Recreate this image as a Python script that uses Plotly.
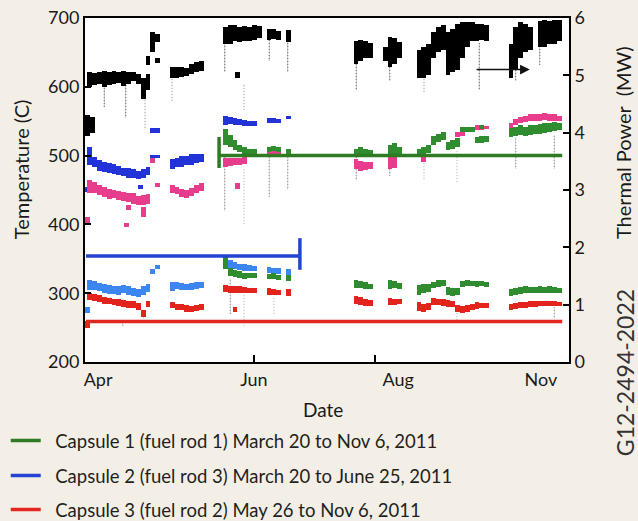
import plotly.graph_objects as go

# ---------------- data (time index 0..100 along the operating period) ----------------
# Thermal power (MW, right axis): dense clusters  x, low, high
power_x  = [0.5, 1.5, 1, 2, 3, 4, 5, 6, 7, 8, 9, 10, 11, 12, 13, 13, 14, 15, 15,
            18, 19, 20, 21, 22, 23, 24, 29, 30, 31, 32, 33, 34, 35, 36, 31.5,
            38, 39, 40, 42, 56, 57, 58, 59, 62, 63, 64, 65, 69, 70, 71, 72, 73, 74,
            75, 76, 77, 78, 79, 80, 81, 82, 83, 88, 89, 90, 91, 92, 94, 95, 96, 97, 98]
power_lo = [3.95, 4.00, 4.80, 4.83, 4.85, 4.80, 4.83, 4.85, 4.87, 4.82, 4.85, 4.90, 4.85, 4.58, 4.75, 5.18, 5.40, 5.22, 5.58,
            4.95, 4.95, 4.97, 4.98, 5.02, 5.05, 5.07, 5.55, 5.55, 5.60, 5.58, 5.60, 5.60, 5.62, 5.65, 4.95,
            5.62, 5.63, 5.62, 5.58, 5.20, 5.25, 5.30, 5.30, 5.25, 5.15, 5.20, 5.30, 4.95, 4.95, 5.00, 5.30, 5.40, 5.45,
            5.00, 5.05, 5.10, 5.30, 5.50, 5.60, 5.60, 5.62, 5.60, 4.95, 5.10, 5.30, 5.40, 5.45, 5.50, 5.50, 5.55, 5.55, 5.60]
power_hi = [4.30, 4.28, 5.06, 5.04, 5.06, 5.08, 5.05, 5.08, 5.06, 5.08, 5.06, 5.06, 5.03, 4.95, 5.02, 5.33, 5.75, 5.30, 5.72,
            5.15, 5.15, 5.14, 5.13, 5.20, 5.23, 5.25, 5.85, 5.88, 5.88, 5.85, 5.86, 5.85, 5.88, 5.86, 5.06,
            5.80, 5.80, 5.78, 5.79, 5.60, 5.62, 5.60, 5.56, 5.50, 5.67, 5.65, 5.58, 5.45, 5.50, 5.55, 5.75, 5.85, 5.88,
            5.75, 5.80, 5.90, 5.93, 5.93, 5.93, 5.90, 5.90, 5.88, 5.55, 5.85, 5.93, 5.90, 5.85, 5.95, 5.97, 5.95, 5.97, 5.97]
# Thermal power: sparse excursions (x, low, high)
power_tail_x  = [4, 8.5, 12.5, 18, 29, 33, 38, 42, 56, 63, 70, 81.5, 89, 94]
power_tail_lo = [4.45, 4.25, 4.05, 4.55, 5.05, 4.40, 5.25, 5.05, 4.75, 4.90, 4.70, 4.74, 4.90, 5.18]
power_tail_hi = [4.80, 4.85, 4.60, 4.95, 5.55, 4.87, 5.62, 5.58, 5.20, 5.15, 4.95, 5.56, 5.10, 5.50]

# Temperatures (C, left axis)
blue_x  = [0.5, 1, 2, 3, 4, 5, 6, 7, 8, 9, 10, 11, 11.5, 12, 13, 14, 14, 15, 15,
           18, 19, 20, 21, 22, 23, 24, 29, 30, 31, 32, 33, 34, 35, 38, 39, 40, 42]
blue_lo = [447, 486, 484, 478, 476, 474, 473, 472, 470, 468, 468, 466, 452, 467, 472, 533, 496, 533, 496,
           480, 483, 484, 486, 487, 489, 490, 544, 546, 545, 544, 543, 543, 543, 547, 547, 547, 553]
blue_hi = [454, 512, 498, 494, 490, 489, 488, 485, 482, 482, 480, 478, 458, 480, 484, 540, 501, 540, 501,
           495, 497, 500, 500, 502, 503, 503, 557, 556, 555, 553, 552, 551, 550, 555, 554, 553, 557]

ltblue_x  = [0.5, 1, 2, 3, 4, 5, 6, 7, 8, 9, 10, 11, 12, 13, 14, 15,
             18, 19, 20, 21, 22, 23, 24, 29, 30, 31, 32, 33, 34, 35, 38, 39, 40, 42]
ltblue_lo = [271, 305, 305, 303, 300, 299, 299, 298, 300, 298, 296, 294, 297, 302, 328, 335,
             303, 306, 305, 304, 305, 306, 307, 336, 336, 335, 334, 333, 333, 333, 330, 329, 328, 327]
ltblue_hi = [280, 319, 318, 315, 313, 312, 311, 310, 312, 311, 308, 306, 310, 314, 335, 341,
             316, 316, 315, 314, 315, 316, 317, 351, 348, 345, 343, 342, 341, 340, 338, 337, 336, 335]

pink_x  = [0.5, 1, 2, 3, 4, 5, 6, 7, 8, 9, 10, 11, 12, 13, 12, 9, 8.5, 14, 15,
           18, 19, 20, 21, 22, 23, 24, 29, 30, 31, 32, 33, 31.5, 38, 39, 40, 42,
           56, 57, 58, 59, 63, 64, 70, 77, 78, 81, 82, 83,
           88, 88.5, 89, 90, 91, 92, 93, 94, 95, 96, 97, 98]
pink_lo = [399, 446, 445, 443, 440, 437, 438, 436, 434, 433, 430, 428, 428, 430, 411, 421, 396, 489, 454,
           446, 444, 440, 438, 441, 445, 448, 484, 485, 486, 487, 488, 452, 498, 500, 500, 500,
           480, 478, 479, 481, 480, 482, 490, 527, 528, 537, 537, 538,
           540, 528, 545, 548, 549, 550, 551, 551, 552, 550, 551, 550]
pink_hi = [411, 465, 462, 458, 455, 452, 450, 448, 447, 446, 445, 442, 443, 444, 425, 428, 402, 496, 460,
           458, 455, 452, 450, 453, 457, 460, 496, 497, 496, 497, 498, 460, 508, 510, 510, 505,
           495, 492, 490, 490, 500, 498, 500, 535, 537, 544, 544, 543,
           548, 535, 553, 556, 558, 560, 561, 561, 562, 560, 560, 558]

red_x  = [0.5, 1, 2, 3, 4, 5, 6, 7, 8, 9, 10, 11, 12, 13,
          18, 19, 20, 21, 22, 23, 24, 29, 30, 31, 32, 33, 34, 35, 31, 38, 39, 40, 42,
          56, 57, 58, 59, 63, 64, 65, 69, 70, 71, 72, 73, 74, 75, 76, 77, 78, 79, 80, 81, 82, 83,
          88, 89, 90, 91, 92, 93, 94, 95, 96, 97, 98]
red_lo = [250, 290, 289, 287, 285, 284, 283, 281, 280, 279, 278, 276, 266, 280,
          278, 276, 275, 273, 273, 274, 276, 302, 301, 300, 301, 300, 300, 301, 273, 298, 297, 297, 296,
          284, 283, 282, 282, 283, 283, 284, 274, 273, 276, 283, 283, 282, 280, 280, 272, 271, 273, 275, 277, 278, 278,
          276, 277, 278, 279, 280, 280, 281, 281, 281, 282, 281]
red_hi = [260, 300, 299, 297, 295, 293, 292, 291, 290, 289, 288, 286, 276, 288,
          287, 285, 284, 283, 282, 283, 285, 312, 311, 310, 310, 309, 308, 308, 280, 307, 306, 305, 306,
          296, 294, 292, 290, 293, 292, 291, 287, 285, 286, 293, 292, 291, 290, 288, 283, 281, 283, 284, 287, 286, 286,
          285, 286, 287, 287, 288, 288, 288, 288, 288, 288, 287]

green_x  = [29, 30, 31, 32, 33, 34, 35, 38, 39, 40, 42, 56, 57, 58, 59, 63, 64, 65, 69, 70, 71, 72, 73, 74,
            75, 76, 77, 78, 79, 80, 81, 82, 82, 83, 88, 89, 90, 91, 92, 93, 94, 95, 96, 97, 98,
            29, 30, 31, 32, 33, 34, 35, 38, 39, 40, 42, 56, 57, 58, 59, 63, 64, 65, 69, 70, 71, 72, 73, 74,
            75, 76, 77, 78, 79, 80, 81, 82, 83, 88, 89, 90, 91, 92, 93, 94, 95, 96, 97, 98]
green_lo = [515, 512, 508, 505, 503, 502, 501, 505, 506, 505, 503, 500, 500, 499, 500, 503, 503, 502, 500, 502, 504, 515, 520, 522,
            508, 510, 512, 534, 534, 535, 518, 519, 539, 520, 527, 528, 530, 528, 530, 531, 532, 533, 535, 536, 537,
            335, 325, 323, 322, 321, 322, 322, 320, 320, 319, 318, 307, 307, 306, 306, 306, 307, 306, 298, 300, 302, 307, 309, 310,
            298, 296, 297, 309, 310, 310, 309, 310, 309, 296, 297, 299, 300, 300, 301, 301, 300, 301, 301, 300]
green_hi = [538, 530, 522, 516, 512, 510, 509, 513, 514, 513, 510, 510, 512, 510, 508, 516, 518, 512, 510, 512, 515, 528, 532, 534,
            520, 522, 526, 541, 542, 541, 527, 528, 545, 528, 540, 542, 544, 542, 545, 545, 546, 547, 548, 549, 548,
            352, 337, 334, 332, 330, 330, 329, 328, 329, 327, 326, 319, 318, 316, 314, 319, 318, 315, 312, 313, 314, 317, 319, 319,
            309, 307, 308, 318, 319, 318, 318, 318, 316, 306, 308, 309, 310, 309, 309, 310, 309, 310, 309, 308]

# sparse excursions of the thermocouple readings (x, low, high)
tail_x  = [29, 33, 38, 42, 56, 63, 70, 77, 89, 97, 30, 33, 39, 77, 97, 12, 8]
tail_lo = [420, 400, 440, 450, 465, 470, 465, 460, 480, 480, 270, 250, 270, 255, 262, 262, 253]
tail_hi = [500, 480, 498, 500, 498, 500, 500, 510, 527, 530, 322, 300, 296, 271, 280, 268, 258]

# design temperature limits of each capsule
limit_names = ["Capsule 1 (fuel rod 1) March 20 to Nov 6, 2011",
               "Capsule 2 (fuel rod 3) March 20 to June 25, 2011",
               "Capsule 3 (fuel rod 2) May 26 to Nov 6, 2011"]
limit_temp  = [500, 354, 259]
limit_start = [27.7, 0.2, 0.2]
limit_end   = [98.6, 44.4, 98.6]
cap_x  = [27.7, 44.4]           # end markers of capsule 1 / capsule 2 limits
cap_y  = [500, 354]
cap_up = [27, 26]
cap_dn = [18, 20]

# x-axis labels
label_pos  = [2.7, 34.9, 64.7, 94.2]
label_text = ["Apr", "Jun", "Aug", "Nov"]
tick_pos   = [34.9, 59.9]

# arrow: black clusters read on the right axis
arrow_from_x, arrow_to_x, arrow_power = 80.6, 91.9, 5.1

# ---------------- figure ----------------
FONT = "Lato"
limit_colors = ["#2e7b22", "#2343d4", "#e3261f"]
legend_ids = ["legend", "legend2", "legend3"]
legend_y = [1 - 441 / 521, 1 - 476 / 521, 1 - 510 / 521]

fig = go.Figure()

def band(xs, lo, hi, color, yaxis="y", width=1.0, pattern=False):
    marker = dict(color=color, line=dict(width=0))
    if pattern:
        marker["pattern"] = dict(shape=".", size=3, solidity=0.35, fgcolor=color,
                                 bgcolor="rgba(255,255,255,0)")
    fig.add_trace(go.Bar(x=xs, y=[h - l for l, h in zip(lo, hi)], base=lo, width=width,
                         marker=marker, yaxis=yaxis, showlegend=False, hoverinfo="skip"))

band(tail_x, tail_lo, tail_hi, "#555555", width=0.3, pattern=True)
band(ltblue_x, ltblue_lo, ltblue_hi, "#3b86f0")
band(red_x, red_lo, red_hi, "#e3241c")
band(blue_x, blue_lo, blue_hi, "#2233d8")
band(pink_x, pink_lo, pink_hi, "#e83d8c")
band(green_x, green_lo, green_hi, "#2f8c2f")
band(power_tail_x, power_tail_lo, power_tail_hi, "#111111", yaxis="y2", width=0.3, pattern=True)
band(power_x, power_lo, power_hi, "#000000", yaxis="y2", width=1.0)

for name, t, s, e, c, lg in zip(limit_names, limit_temp, limit_start, limit_end, limit_colors, legend_ids):
    fig.add_trace(go.Scatter(x=[s, e], y=[t, t], mode="lines", name="\u00a0\u00a0" + name,
                             line=dict(color=c, width=3.5), legend=lg, hoverinfo="skip"))

for i in range(len(cap_x)):
    fig.add_trace(go.Scatter(x=[cap_x[i]], y=[cap_y[i]], mode="markers",
                             marker=dict(size=1, color="rgba(0,0,0,0)"),
                             error_y=dict(type="data", symmetric=False, array=[cap_up[i]],
                                          arrayminus=[cap_dn[i]], color=limit_colors[i],
                                          thickness=3.5, width=0),
                             showlegend=False, hoverinfo="skip"))

fig.add_annotation(x=arrow_to_x, y=arrow_power, xref="x", yref="y2",
                   ax=arrow_from_x, ay=arrow_power, axref="x", ayref="y2",
                   showarrow=True, arrowhead=2, arrowsize=1.3, arrowwidth=1.5, arrowcolor="#111", text="")

title_font = dict(family=FONT, size=20, color="#1a1a1a")
centered = dict(xref="paper", yref="paper", showarrow=False, xanchor="center", yanchor="middle")
fig.add_annotation(text="Temperature (C)", textangle=-90, x=-0.132, y=0.561, font=title_font, **centered)
fig.add_annotation(text="Thermal Power\u00a0\u00a0(MW)", textangle=-90, x=1.112, y=0.637,
                   font=title_font, **centered)
fig.add_annotation(text="Date", x=0.492, y=-0.1395, font=dict(family=FONT, size=19, color="#1a1a1a"),
                   **centered)
fig.add_annotation(text="G12-2494-2022", textangle=-90, x=1.116, y=-0.032,
                   font=dict(family=FONT, size=23, color="#333"), **centered)

axis_font = dict(family=FONT, size=18, color="#1a1a1a")
legend_common = dict(xref="container", yref="container", x=0.009, xanchor="left", yanchor="middle",
                     bgcolor="rgba(0,0,0,0)", font=dict(family=FONT, size=18.5, color="#231f20"))
fig.update_layout(
    width=638, height=521,
    margin=dict(l=85, r=69, t=18, b=159, autoexpand=False),
    paper_bgcolor="#f4efe6", plot_bgcolor="white",
    barmode="overlay", bargap=0,
    font=dict(family=FONT, color="#1a1a1a"),
    xaxis=dict(range=[0, 100], showgrid=False, zeroline=False, showline=True, linecolor="black",
               linewidth=2, mirror=True, tickmode="array", tickvals=label_pos, ticktext=label_text,
               ticks="", tickfont=axis_font, tickangle=0,
               minor=dict(tickmode="array", tickvals=tick_pos, ticks="inside", ticklen=7,
                          tickwidth=2, tickcolor="black", showgrid=False)),
    yaxis=dict(range=[200, 700], showgrid=False, zeroline=False, showline=True, linecolor="black",
               linewidth=2, tickvals=[200, 300, 400, 500, 600, 700], ticks="inside", ticklen=6,
               tickwidth=2, tickcolor="black", tickfont=axis_font),
    yaxis2=dict(range=[0, 6], overlaying="y", side="right", showgrid=False, zeroline=False,
                showline=True, linecolor="black", linewidth=2, tickvals=[0, 1, 2, 3, 4, 5, 6],
                ticks="inside", ticklen=6, tickwidth=2, tickcolor="black", tickfont=axis_font),
    legend=dict(y=legend_y[0], **legend_common),
    legend2=dict(y=legend_y[1], **legend_common),
    legend3=dict(y=legend_y[2], **legend_common),
    showlegend=True,
)

fig.write_html("out.html", config={"displayModeBar": False},
               post_script="document.body.style.margin='0';")
